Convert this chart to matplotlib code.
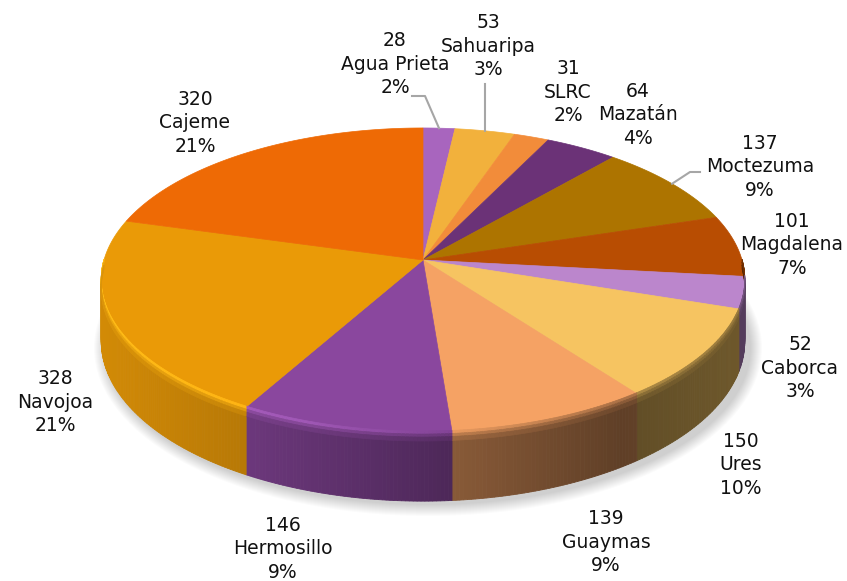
import numpy as np
import matplotlib
matplotlib.use("Agg")
import matplotlib.pyplot as plt
from matplotlib.patches import Polygon, Ellipse
from matplotlib.colors import to_rgb

# ---- data ----
names = ["Agua Prieta", "Sahuaripa", "SLRC", "Mazatán", "Moctezuma", "Magdalena",
         "Caborca", "Ures", "Guaymas", "Hermosillo", "Navojoa", "Cajeme"]
values = [28, 53, 31, 64, 137, 101, 52, 150, 139, 146, 328, 320]
colors = ["#A865BE", "#F2B13C", "#F28C3A", "#6B3277", "#AD7400", "#B84D02",
          "#BB86CC", "#F6C461", "#F5A264", "#8A479E", "#EA9A07", "#EE6A05"]
# label block centres (pixels)
label_pos = [(395, 64), (488, 46), (568, 92), (638, 115), (760, 167), (792, 245),
             (800, 368), (741, 465), (606, 542), (283, 549), (55, 402), (195, 123)]
# leader line start points for labels that have one
leader_start = {0: [(412, 96), (425, 96)], 1: [(485, 84)], 4: [(700, 172), (690, 172)]}

W, H = 847, 581
fig = plt.figure(figsize=(W / 100, H / 100), dpi=100)
ax = fig.add_axes([0, 0, 1, 1])
ax.set_xlim(0, W)
ax.set_ylim(H, 0)
ax.axis("off")

# perspective pie geometry
hx, hy = 423, 260          # hub
Xr, Yv, k = 319, 149.4, 0.1316
D = 60                     # extrusion depth
total = sum(values)
fr = np.array(values) / total
cum = np.concatenate([[0], np.cumsum(fr)])
starts = 90 - 360 * cum[:-1]
ends = 90 - 360 * cum[1:]


def ept(phi_deg, bottom=False):
    t = np.radians(phi_deg)
    u, v = np.cos(t), np.sin(t)
    w = 1 + k * v
    x = hx + Xr * u / w
    y = hy - Yv * v / w
    if bottom:
        y = y + D / w
    return x, y


def shade(x):
    return np.interp(x, [100, 250, 450, 620, 745], [0.90, 0.78, 0.56, 0.39, 0.45])


def rim(x):
    return np.interp(x, [100, 300, 450, 600, 745], [1.12, 1.08, 0.95, 0.72, 0.62])


# soft shadow
for i in range(12):
    g = 12 - i
    ax.add_patch(Ellipse((hx + 5, 348), 2 * 322 + 2 * g, 2 * 156 + 2 * g,
                         facecolor="black", edgecolor="none", alpha=0.016, zorder=1))

# side walls (front half)
for s, e, c in zip(starts, ends, colors):
    a0, a1 = max(e, -180), min(s, 0)
    if a0 >= a1:
        continue
    base = np.array(to_rgb(c))
    n = max(2, int((a1 - a0) / 0.6) + 1)
    th = np.linspace(a1, a0, n)
    for t1, t2 in zip(th[:-1], th[1:]):
        x1, y1 = ept(t1)
        x2, y2 = ept(t2)
        bx1, by1 = ept(t1, True)
        bx2, by2 = ept(t2, True)
        xm = (x1 + x2) / 2
        f = shade(xm)
        col = np.clip(base * f, 0, 1)
        ax.add_patch(Polygon([(x1, y1), (x2, y2), (bx2, by2), (bx1, by1)],
                             closed=True, facecolor=col, edgecolor=col, lw=0.6, zorder=2))
        # bevel rim: gradient from top-face edge to side
        r = rim(xm)
        boost = 0.06 * np.clip((r - 0.95) / 0.17, 0, 1)
        hcol = np.clip(base * r + boost, 0, 1)
        bands = [(-1, 2, hcol), (2, 5, 0.55 * hcol + 0.45 * col), (5, 9, 0.2 * hcol + 0.8 * col)]
        for o0, o1, bc in bands:
            bc = np.clip(bc, 0, 1)
            ax.add_patch(Polygon([(x1, y1 + o0), (x2, y2 + o0), (x2, y2 + o1), (x1, y1 + o1)],
                                 closed=True, facecolor=bc, edgecolor=bc, lw=0.5,
                                 zorder=3.5))

# top faces
for s, e, c in zip(starts, ends, colors):
    n = max(3, int(abs(s - e) / 0.5) + 2)
    th = np.linspace(s, e, n)
    pts = [(hx, hy)] + [ept(t) for t in th]
    ax.add_patch(Polygon(pts, closed=True, facecolor=c, edgecolor=c, lw=0.5, zorder=3))

# labels
for i, (nm, v, (lx, ly)) in enumerate(zip(names, values, label_pos)):
    pct = round(100 * v / total)
    ax.text(lx, ly, f"{v}\n{nm}\n{pct}%", ha="center", va="center",
            fontsize=13.5, linespacing=1.3, color="#111111",
            family="DejaVu Sans", zorder=5)
    if i in leader_start:
        mid = (starts[i] + ends[i]) / 2
        ex, ey = ept(mid)
        pts = leader_start[i] + [(ex, ey)]
        xs, ys = zip(*pts)
        ax.plot(xs, ys, color="#A6A6A6", lw=1.5, zorder=4)

fig.savefig("out.png", dpi=100)
